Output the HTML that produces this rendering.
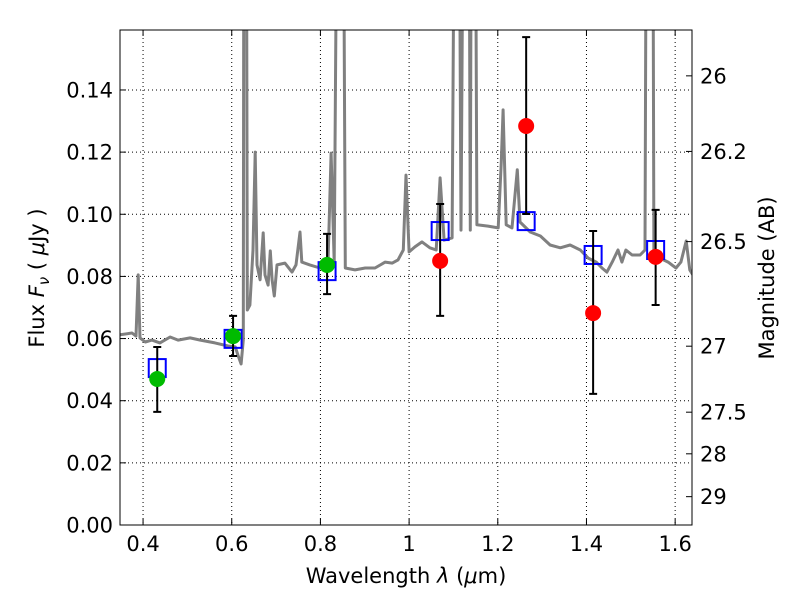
<!DOCTYPE html>
<html><head><meta charset="utf-8"><style>
body{margin:0;background:#fff}
svg{display:block;font-family:"DejaVu Sans","Liberation Sans",sans-serif}
</style></head><body>
<svg id="chart" width="800" height="600" viewBox="0 0 800 600"></svg>
<script>
const specLam=[0.348,0.375,0.384,0.389,0.393,0.405,0.420,0.438,0.461,0.479,0.506,0.529,0.562,0.592,0.608,0.614,0.621,0.626,0.628,0.632,0.635,0.641,0.648,0.653,0.657,0.664,0.671,0.675,0.682,0.687,0.691,0.696,0.702,0.720,0.736,0.745,0.754,0.758,0.776,0.799,0.817,0.824,0.831,0.842,0.849,0.856,0.878,0.901,0.923,0.946,0.962,0.975,0.987,0.993,1.000,1.013,1.029,1.047,1.061,1.070,1.079,1.097,1.106,1.110,1.117,1.126,1.133,1.138,1.142,1.147,1.153,1.178,1.201,1.208,1.212,1.219,1.232,1.244,1.250,1.273,1.296,1.318,1.341,1.363,1.386,1.404,1.422,1.435,1.446,1.458,1.471,1.480,1.489,1.503,1.521,1.532,1.537,1.548,1.552,1.566,1.584,1.602,1.613,1.625,1.633,1.640];
const specFlux=[0.0612,0.0618,0.0608,0.0805,0.0602,0.0589,0.0595,0.0586,0.0605,0.0595,0.0602,0.0595,0.0586,0.0576,0.0573,0.0547,0.0518,0.0595,0.30,0.30,0.0692,0.0708,0.0885,0.120,0.0837,0.0789,0.094,0.0805,0.0772,0.0882,0.0789,0.0737,0.0837,0.0843,0.0814,0.0837,0.0943,0.0846,0.0837,0.0827,0.0840,0.1197,0.0846,0.30,0.30,0.0827,0.0821,0.0827,0.0827,0.0846,0.0843,0.0853,0.0885,0.1126,0.0879,0.0895,0.0911,0.0892,0.0885,0.1117,0.0917,0.0924,0.30,0.30,0.0949,0.30,0.30,0.0949,0.30,0.30,0.0966,0.0962,0.0956,0.117,0.1336,0.0966,0.0956,0.1143,0.0975,0.0943,0.0930,0.0901,0.0892,0.0901,0.0885,0.0859,0.0846,0.0827,0.0814,0.0846,0.0885,0.0846,0.0885,0.0869,0.0869,0.0885,0.30,0.30,0.0869,0.0859,0.0846,0.0827,0.0846,0.0914,0.0821,0.0805];
const obsLam=[0.432,0.603,0.815,1.070,1.264,1.415,1.556];
const obsFlux=[0.047,0.0608,0.0837,0.085,0.1284,0.0682,0.0863];
const obsLo=[0.0364,0.0544,0.0743,0.0673,0.1001,0.0422,0.0708];
const obsHi=[0.0573,0.0673,0.0937,0.1033,0.157,0.0946,0.1014];
const obsColor=['#00bb00','#00bb00','#00bb00','#ff0000','#ff0000','#ff0000','#ff0000'];
const modelFlux=[0.0505,0.0599,0.0817,0.0946,0.0978,0.0869,0.0885];
const xTicks=[0.4,0.6,0.8,1.0,1.2,1.4,1.6];
const xTickLabels=['0.4','0.6','0.8','1','1.2','1.4','1.6'];
const yTicks=[0,0.02,0.04,0.06,0.08,0.10,0.12,0.14];
const yTickLabels=['0.00','0.02','0.04','0.06','0.08','0.10','0.12','0.14'];
const magTicks=[26,26.2,26.5,27,27.5,28,29];
const magLabels=['26','26.2','26.5','27','27.5','28','29'];

const L=120,R=692,T=30,B=525,xmin=0.348,xmax=1.638,ymin=0,ymax=0.1593;
const sx=v=>L+(v-xmin)/(xmax-xmin)*(R-L);
const sy=v=>B-(v-ymin)/(ymax-ymin)*(B-T);
const svg=document.getElementById('chart');
const NS='http://www.w3.org/2000/svg';
function mk(tag,attrs,parent){const e=document.createElementNS(NS,tag);for(const k in attrs)e.setAttribute(k,attrs[k]);(parent||svg).appendChild(e);return e;}
const defs=mk('defs',{});const cp=mk('clipPath',{id:'clip'},defs);mk('rect',{x:L,y:T,width:R-L,height:B-T},cp);

xTicks.forEach(v=>{const g=mk('line',{x1:sx(v),x2:sx(v),y1:T,y2:B,stroke:'#000','stroke-width':1,'stroke-dasharray':'1,3'});

});
yTicks.forEach(v=>{const g=mk('line',{x1:L,x2:R,y1:sy(v),y2:sy(v),stroke:'#000','stroke-width':1,'stroke-dasharray':'1,3'});

});

const pts=specLam.map((l,i)=>sx(l).toFixed(1)+','+sy(specFlux[i]).toFixed(1)).join(' ');
const sp=mk('polyline',{points:pts,fill:'none',stroke:'#808080','stroke-width':3,'clip-path':'url(#clip)','stroke-linejoin':'round'});



modelFlux.forEach((f,i)=>{const s=mk('rect',{x:sx(obsLam[i])-8.5,y:sy(f)-9,width:17,height:18,fill:'none',stroke:'#0000ff','stroke-width':2});

});
obsLam.forEach((l,i)=>{const x=sx(l);
const e=mk('path',{d:`M${x},${sy(obsLo[i])}V${sy(obsHi[i])}M${x-4},${sy(obsLo[i])}h8M${x-4},${sy(obsHi[i])}h8`,stroke:'#000','stroke-width':2,fill:'none'});


const c=mk('circle',{cx:x,cy:sy(obsFlux[i]),r:8,fill:obsColor[i]});

});

const fr=mk('rect',{x:L,y:T,width:R-L,height:B-T,fill:'none',stroke:'#000','stroke-width':1});



xTicks.forEach((v,i)=>{const x=sx(v);
mk('path',{d:`M${x},${B}v-6M${x},${T}v6`,stroke:'#000'});
const t=mk('text',{x:x,y:B+26,'text-anchor':'middle','font-size':21});t.textContent=xTickLabels[i];

});
yTicks.forEach((v,i)=>{const y=sy(v);
mk('path',{d:`M${L},${y}h6`,stroke:'#000'});
const t=mk('text',{x:L-7,y:y+7.5,'text-anchor':'end','font-size':21});t.textContent=yTickLabels[i];

});
magTicks.forEach((m,i)=>{const y=sy(Math.pow(10,-(m-23.9)/2.5));
mk('path',{d:`M${R},${y}h-6`,stroke:'#000'});
const t=mk('text',{x:R+8,y:y+7.5,'font-size':21});t.textContent=magLabels[i];

});
</script>
<svg style="position:absolute;left:0;top:0" width="800" height="600">
<text x="406" y="583" text-anchor="middle" font-size="21" font-family="DejaVu Sans,sans-serif">Wavelength  <tspan font-style="italic">λ</tspan> (<tspan font-style="italic">μ</tspan>m)</text>
<text transform="translate(44,278) rotate(-90)" text-anchor="middle" font-size="21" font-family="DejaVu Sans,sans-serif">Flux  <tspan font-style="italic">F</tspan><tspan font-style="italic" font-size="15" dy="5">ν</tspan><tspan dy="-5">  (  </tspan><tspan font-style="italic">μ</tspan>Jy )</text>
<text transform="translate(774,278) rotate(-90)" text-anchor="middle" font-size="21" font-family="DejaVu Sans,sans-serif">Magnitude (AB)</text>
</svg>
</body></html>
